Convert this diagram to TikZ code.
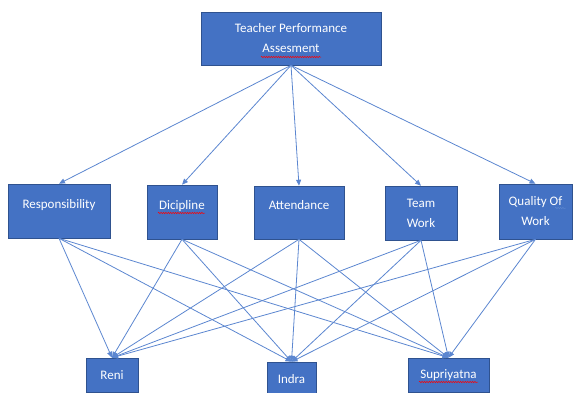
\documentclass[tikz,border=0pt]{standalone}
\usepackage{fontspec}
\setmainfont{Carlito}
\usetikzlibrary{arrows.meta}
\usetikzlibrary{decorations.pathmorphing}
\definecolor{office-blue}{HTML}{4472C4}
\definecolor{office-edge}{HTML}{2F528F}
\definecolor{link-blue}{HTML}{5B86D0}
\tikzset{
  crit-box/.style 2 args={
    draw=office-edge,
    fill=office-blue,
    text=white,
    line width=0.6pt,
    minimum width=#1,
    minimum height=#2,
    inner sep=0pt,
    align=center,
    font=\fontsize{13}{20}\selectfont},
  one-line/.style={text height=9pt, text depth=15pt},
  link-path/.style={draw=link-blue, line width=0.8pt, -{Triangle[length=6pt,width=5pt]}},
  spell-mark/.style={draw=#1, line width=0.5pt, decorate,
    decoration={snake, amplitude=0.7pt, segment length=2.4pt}},
}
\begin{document}
\begin{tikzpicture}[x=1pt, y=-1pt]
\useasboundingbox (0,0) rectangle (575,392);
\clip (0,0) rectangle (575,392);
% goal
\node[crit-box={180pt}{53pt}] (goal) at (291,38.5) {Teacher Performance\\Assesment};
% criteria
\node[crit-box={102pt}{54pt}, one-line] (resp) at (59,211) {Responsibility};
\node[crit-box={70pt}{54pt}, one-line] (dicip) at (182,212) {Dicipline};
\node[crit-box={90pt}{53pt}, one-line] (attend) at (299,212.5) {Attendance};
\node[crit-box={72pt}{54pt}] (team) at (421,213) {Team\\Work};
\node[crit-box={73pt}{55pt}] (quality) at (535.5,211.5) {Quality Of\\Work};
% alternatives
\node[crit-box={52pt}{34pt}] (reni) at (112,375) {Reni};
\node[crit-box={49pt}{34pt}] (indra) at (291.5,379) {Indra};
\node[crit-box={81pt}{34pt}] (supri) at (448.5,375) {Supriyatna};
% goal -> criteria
\foreach \crit in {resp,dicip,attend,team,quality} {
  \draw[link-path] (goal.south) -- (\crit.north);
}
% criteria -> alternatives
\foreach \crit in {resp,dicip,attend,team,quality} {
  \foreach \alt in {reni,indra,supri} {
    \draw[link-path] (\crit.south) -- (\alt.north);
  }
}
% spell checker marks
\draw[spell-mark=red] (261,57) -- (321,57);
\draw[spell-mark=red] (158,213) -- (205,213);
\draw[spell-mark=link-blue] (555,208) -- (566,208);
\draw[spell-mark=red] (419,382) -- (478,382);
\end{tikzpicture}
\end{document}
